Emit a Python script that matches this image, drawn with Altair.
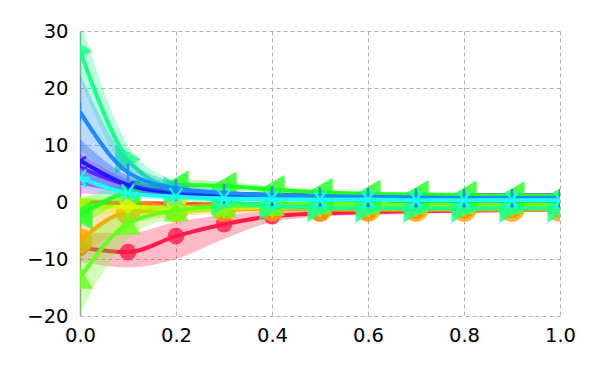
import altair as alt
import pandas as pd

xs = [0.0, 0.1, 0.2, 0.3, 0.4, 0.5, 0.6, 0.7, 0.8, 0.9, 1.0]

names = ["red", "orange", "orangered", "yellow", "chartreuse", "green",
         "springgreen", "cyan", "dodger", "blue", "violet", "magenta"]
colors = ["#ff1a4a", "#ffa500", "#ff5a10", "#d8ff00", "#66ff1a", "#22ff22",
          "#1aff8c", "#1affee", "#1a8cff", "#1a1aff", "#8c1aff", "#ee1aff"]

y_red = [-8.0, -8.8, -6.0, -3.9, -2.5, -2.0, -1.8, -1.6, -1.5, -1.4, -1.3]
lo_red = [-10.5, -11.5, -10.0, -6.5, -3.5, -2.6, -2.3, -2.1, -1.9, -1.8, -1.7]
hi_red = [-5.5, -5.5, -3.5, -2.3, -1.6, -1.3, -1.2, -1.1, -1.0, -1.0, -1.0]

y_orange = [-6.8, -1.8, -1.4, -1.3, -1.2, -1.3, -1.3, -1.3, -1.3, -1.3, -1.3]
lo_orange = [-10.0, -4.0, -2.5, -2.0, -1.8, -1.8, -1.8, -1.8, -1.8, -1.8, -1.8]
hi_orange = [-3.5, 0.0, -0.4, -0.6, -0.7, -0.8, -0.8, -0.8, -0.8, -0.8, -0.8]

y_orangered = [0.0, -0.2, -0.3, -0.4, -0.4, -0.4, -0.4, -0.4, -0.4, -0.4, -0.4]
lo_orangered = [-0.6, -0.7, -0.7, -0.7, -0.7, -0.7, -0.7, -0.7, -0.7, -0.7, -0.7]
hi_orangered = [0.6, 0.3, 0.1, 0.0, 0.0, 0.0, 0.0, 0.0, 0.0, 0.0, 0.0]

y_yellow = [-1.2, -0.8, -1.4, -1.0, -0.9, -0.8, -0.8, -0.7, -0.7, -0.7, -0.7]
lo_yellow = [-3.0, -2.0, -2.2, -1.6, -1.4, -1.3, -1.2, -1.2, -1.2, -1.2, -1.2]
hi_yellow = [0.8, 0.4, -0.5, -0.4, -0.4, -0.3, -0.3, -0.3, -0.3, -0.3, -0.3]

y_chart = [-13.3, -3.8, -1.5, -0.8, -0.5, -0.3, -0.3, -0.2, -0.2, -0.2, -0.2]
lo_chart = [-19.5, -6.5, -2.6, -1.5, -1.0, -0.8, -0.7, -0.7, -0.6, -0.6, -0.6]
hi_chart = [-7.0, -1.5, -0.5, -0.2, 0.0, 0.1, 0.1, 0.2, 0.2, 0.2, 0.2]

y_green = [-2.3, 1.8, 3.0, 2.8, 2.2, 1.7, 1.4, 1.3, 1.2, 1.1, 1.1]
lo_green = [-4.5, 0.5, 2.0, 2.0, 1.6, 1.2, 1.0, 0.9, 0.8, 0.7, 0.7]
hi_green = [0.5, 3.2, 4.0, 3.6, 2.8, 2.2, 1.9, 1.7, 1.6, 1.5, 1.5]

y_spring = [26.5, 7.5, 2.0, 0.2, -0.7, -1.0, -1.1, -1.1, -1.1, -1.1, -1.1]
lo_spring = [21.5, 5.0, 0.8, -0.6, -1.3, -1.5, -1.6, -1.6, -1.6, -1.6, -1.6]
hi_spring = [32.0, 10.0, 3.4, 1.2, 0.0, -0.4, -0.6, -0.6, -0.6, -0.6, -0.6]

y_cyan = [4.2, 1.6, 0.9, 0.6, 0.5, 0.4, 0.4, 0.3, 0.3, 0.3, 0.3]
lo_cyan = [2.5, 0.8, 0.4, 0.2, 0.1, 0.0, 0.0, 0.0, 0.0, 0.0, 0.0]
hi_cyan = [6.0, 2.4, 1.4, 1.0, 0.9, 0.8, 0.8, 0.7, 0.7, 0.7, 0.7]

y_dodger = [15.8, 5.2, 2.4, 1.6, 1.2, 1.0, 0.9, 0.8, 0.7, 0.7, 0.7]
lo_dodger = [9.0, 3.2, 1.6, 1.1, 0.8, 0.6, 0.5, 0.5, 0.4, 0.4, 0.4]
hi_dodger = [22.5, 7.5, 3.4, 2.1, 1.6, 1.4, 1.3, 1.2, 1.1, 1.1, 1.1]

y_blue = [7.3, 3.0, 1.5, 1.0, 0.6, 0.5, 0.4, 0.3, 0.3, 0.3, 0.3]
lo_blue = [3.5, 1.8, 0.9, 0.6, 0.3, 0.2, 0.1, 0.0, 0.0, 0.0, 0.0]
hi_blue = [11.0, 4.5, 2.2, 1.4, 1.0, 0.8, 0.7, 0.6, 0.6, 0.6, 0.6]

y_violet = [6.0, 3.0, 1.9, 1.5, 1.3, 1.2, 1.2, 1.2, 1.2, 1.2, 1.2]
lo_violet = [3.5, 2.0, 1.3, 1.1, 1.0, 0.9, 0.9, 0.9, 0.9, 0.9, 0.9]
hi_violet = [8.5, 4.0, 2.5, 1.9, 1.6, 1.5, 1.5, 1.5, 1.5, 1.5, 1.5]

y_magenta = [3.4, 2.0, 1.4, 1.1, 1.0, 1.0, 1.0, 1.0, 1.0, 1.0, 1.0]
lo_magenta = [1.5, 1.2, 0.8, 0.6, 0.6, 0.6, 0.6, 0.6, 0.6, 0.6, 0.6]
hi_magenta = [5.5, 2.8, 2.0, 1.6, 1.4, 1.4, 1.4, 1.4, 1.4, 1.4, 1.4]

series_y = [y_red, y_orange, y_orangered, y_yellow, y_chart, y_green,
            y_spring, y_cyan, y_dodger, y_blue, y_violet, y_magenta]
series_lo = [lo_red, lo_orange, lo_orangered, lo_yellow, lo_chart, lo_green,
             lo_spring, lo_cyan, lo_dodger, lo_blue, lo_violet, lo_magenta]
series_hi = [hi_red, hi_orange, hi_orangered, hi_yellow, hi_chart, hi_green,
             hi_spring, hi_cyan, hi_dodger, hi_blue, hi_violet, hi_magenta]

# marker styles: (shape, size, filled, strokeWidth)
ASTER = "M-1,0L1,0M-0.6,-0.85L0.6,0.85M-0.6,0.85L0.6,-0.85"
VBAR = "M0,-1L0,1"
TRI = "M0,0L0,1M0,0L-0.87,-0.5M0,0L0.87,-0.5"
HBAR = "M-1,0L1,0"
markers = [
    ("circle", 280, True, 0),
    ("circle", 620, True, 0),
    ("diamond", 60, True, 0),
    ("triangle-down", 650, True, 0),
    ("triangle-up", 650, True, 0),
    ("triangle-left", 850, True, 0),
    ("triangle-right", 850, True, 0),
    (ASTER, 420, False, 2.5),
    (VBAR, 320, False, 2.5),
    (TRI, 200, False, 2.5),
    (HBAR, 200, False, 2.5),
    (HBAR, 120, False, 2.5),
]

# drawing order (first = bottom)
draw_order = [11, 10, 0, 1, 2, 3, 4, 5, 6, 9, 8, 7]

rows = []
for n, ys, los, his in zip(names, series_y, series_lo, series_hi):
    for x, y, lo, hi in zip(xs, ys, los, his):
        rows.append({"s": n, "x": x, "y": y, "lo": lo, "hi": hi})
df = pd.DataFrame(rows)

xscale = alt.Scale(domain=[0, 1], nice=False)
yscale = alt.Scale(domain=[-20, 30], nice=False)

layers = []
for i in draw_order:
    n = names[i]
    c = colors[i]
    src = alt.Chart(df).transform_filter(alt.datum.s == n)
    band = src.mark_area(color=c, opacity=0.3, interpolate="monotone", clip=True).encode(
        x=alt.X("x:Q", scale=xscale),
        y=alt.Y("lo:Q", scale=yscale),
        y2="hi:Q",
    )
    line = src.mark_line(color=c, strokeWidth=4, interpolate="monotone", clip=True).encode(
        x=alt.X("x:Q", scale=xscale),
        y=alt.Y("y:Q", scale=yscale),
    )
    shape, size, filled, sw = markers[i]
    if filled:
        pt = src.mark_point(shape=shape, size=size, filled=True, color=c,
                            opacity=0.8, strokeWidth=0, clip=True)
    else:
        pt = src.mark_point(shape=shape, size=size, filled=False, color=c,
                            opacity=0.9, strokeWidth=sw, clip=True)
    pt = pt.encode(x=alt.X("x:Q", scale=xscale), y=alt.Y("y:Q", scale=yscale))
    layers += [band, line, pt]

base_axes = alt.Chart(df).mark_point(opacity=0).encode(
    x=alt.X("x:Q", scale=xscale, title=None,
            axis=alt.Axis(values=[0, 0.2, 0.4, 0.6, 0.8, 1.0], format=".1f",
                          grid=True, domain=False, ticks=False, labelPadding=10,
                          labelFlush=False, labelOverlap=False)),
    y=alt.Y("y:Q", scale=yscale, title=None,
            axis=alt.Axis(values=[-20, -10, 0, 10, 20, 30], grid=True, domain=True,
                          domainColor="#999999", domainWidth=1.5,
                          ticks=False, labelPadding=12, labelFlush=False,
                          labelOverlap=False)),
)

chart = alt.layer(base_axes, *layers).properties(
    width=480, height=285,
    autosize=alt.AutoSizeParams(type="none"),
    padding={"left": 72, "top": 23, "right": 32, "bottom": 40},
).configure_axis(
    labelFont="DejaVu Sans", labelFontSize=19.5, labelColor="#000000",
    gridColor="#b0b0b0", gridDash=[4, 3], gridWidth=1,
).configure_view(stroke=None)

chart.save("out.html", embed_options={"renderer": "svg", "actions": False})
